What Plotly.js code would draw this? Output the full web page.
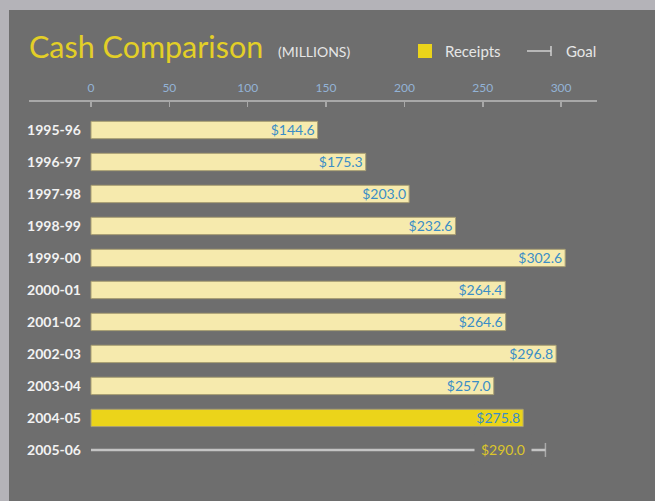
<!DOCTYPE html>
<html>
<head>
<meta charset="utf-8">
<script src="https://cdn.plot.ly/plotly-3.0.1.min.js"></script>
<style>
  html, body { margin: 0; padding: 0; background: #b4b3b8; width: 655px; height: 501px; overflow: hidden; }
  #chart { position: absolute; left: 9px; top: 10px; width: 646px; height: 491px; }
</style>
</head>
<body>
<div id="chart"></div>
<script>
// ---- data ----
const years = ['1995-96','1996-97','1997-98','1998-99','1999-00','2000-01','2001-02','2002-03','2003-04','2004-05'];
const receipts = [144.6, 175.3, 203.0, 232.6, 302.6, 264.4, 264.6, 296.8, 257.0, 275.8];
const goalYear = '2005-06';
const goalValue = 290.0;
const xTicks = [0, 50, 100, 150, 200, 250, 300];
const highlightYear = '2004-05';

// ---- layout helpers (page pixels -> paper fractions) ----
const PLOT_L = 29, PLOT_R = 597, PLOT_T = 102, PLOT_B = 480;
const px = p => (p - PLOT_L) / (PLOT_R - PLOT_L);
const py = p => (PLOT_B - p) / (PLOT_B - PLOT_T);

const allCats = years.concat([goalYear]);
const fmt = v => '$' + v.toFixed(1);

const barTrace = {
  type: 'bar',
  orientation: 'h',
  x: receipts,
  y: years,
  width: 0.54,
  marker: {
    color: years.map(y => y === highlightYear ? '#ebd41a' : '#f6eaad'),
    line: { color: '#a99f74', width: 1 }
  },
  text: receipts.map(fmt),
  textposition: 'inside',
  insidetextanchor: 'end',
  textfont: { family: 'Lato', size: 14, color: '#3b8ec6' },
  constraintext: 'none',
  cliponaxis: false,
  hoverinfo: 'skip',
  showlegend: false
};

const goalTrace = {
  type: 'scatter',
  mode: 'lines+markers',
  x: [0, goalValue],
  y: [goalYear, goalYear],
  line: { color: '#c4c4c4', width: 2.5 },
  marker: { symbol: 'line-ns', size: [0, 10], line: { color: '#c4c4c4', width: 1.5 } },
  cliponaxis: false,
  hoverinfo: 'skip',
  showlegend: false
};

const layout = {
  width: 646,
  height: 491,
  paper_bgcolor: '#6e6e6e',
  plot_bgcolor: 'rgba(0,0,0,0)',
  margin: { l: PLOT_L - 9, r: 655 - PLOT_R, t: PLOT_T - 10, b: 501 - PLOT_B },
  font: { family: 'Lato', color: '#eeeeee' },
  title: {
    text: 'Cash Comparison',
    font: { family: 'Lato', size: 30.5, color: '#e3cf27' },
    xref: 'container', x: (29 - 9) / 646, xanchor: 'left',
    yref: 'container', y: 1 - (47 - 10) / 491, yanchor: 'middle'
  },
  xaxis: {
    side: 'top',
    range: [-(91 - PLOT_L) / 1.567, (PLOT_R - 91) / 1.567],
    tickvals: xTicks,
    ticktext: xTicks.map(String),
    ticks: 'inside',
    ticklen: 5,
    tickwidth: 1.5,
    tickcolor: '#a8a8a8',
    showline: true,
    linecolor: '#a8a8a8',
    linewidth: 2,
    showgrid: false,
    zeroline: false,
    ticklabelstandoff: 3,
    tickfont: { family: 'Lato', size: 12, color: '#93b3d6' },
    fixedrange: true
  },
  yaxis: {
    type: 'category',
    categoryarray: allCats,
    categoryorder: 'array',
    range: [10.94, -0.875],
    anchor: 'free',
    position: px(81),
    ticks: '',
    showline: false,
    showgrid: false,
    zeroline: false,
    tickfont: { family: 'Lato', size: 14, color: '#f2f2f2', weight: 'bold' },
    fixedrange: true
  },
  shapes: [
    { type: 'rect', xref: 'paper', yref: 'paper', x0: px(418), x1: px(432), y0: py(58), y1: py(44),
      fillcolor: '#ebd41a', line: { width: 0 } },
    { type: 'line', xref: 'paper', yref: 'paper', x0: px(527), x1: px(551), y0: py(51), y1: py(51),
      line: { color: '#d0d0d0', width: 1.5 } },
    { type: 'line', xref: 'paper', yref: 'paper', x0: px(551), x1: px(551), y0: py(56), y1: py(46),
      line: { color: '#d0d0d0', width: 1.5 } }
  ],
  annotations: [
    { xref: 'paper', yref: 'paper', x: px(276), y: py(51), xanchor: 'left', yanchor: 'middle',
      text: '(MILLIONS)', showarrow: false, font: { family: 'Lato', size: 14, color: '#e6e6e6' } },
    { xref: 'paper', yref: 'paper', x: px(443), y: py(51), xanchor: 'left', yanchor: 'middle',
      text: 'Receipts', showarrow: false, font: { family: 'Lato', size: 15, color: '#e6e6e6' } },
    { xref: 'paper', yref: 'paper', x: px(564), y: py(51), xanchor: 'left', yanchor: 'middle',
      text: 'Goal', showarrow: false, font: { family: 'Lato', size: 15, color: '#e6e6e6' } },
    { xref: 'x', yref: 'y', x: goalValue, y: goalYear, xanchor: 'right', yanchor: 'middle',
      xshift: -13, text: fmt(goalValue), showarrow: false, bgcolor: '#6e6e6e', borderpad: 6,
      font: { family: 'Lato', size: 14, color: '#dcc62a' } }
  ]
};

Plotly.newPlot('chart', [barTrace, goalTrace], layout, { displayModeBar: false, staticPlot: true });
</script>
</body>
</html>
